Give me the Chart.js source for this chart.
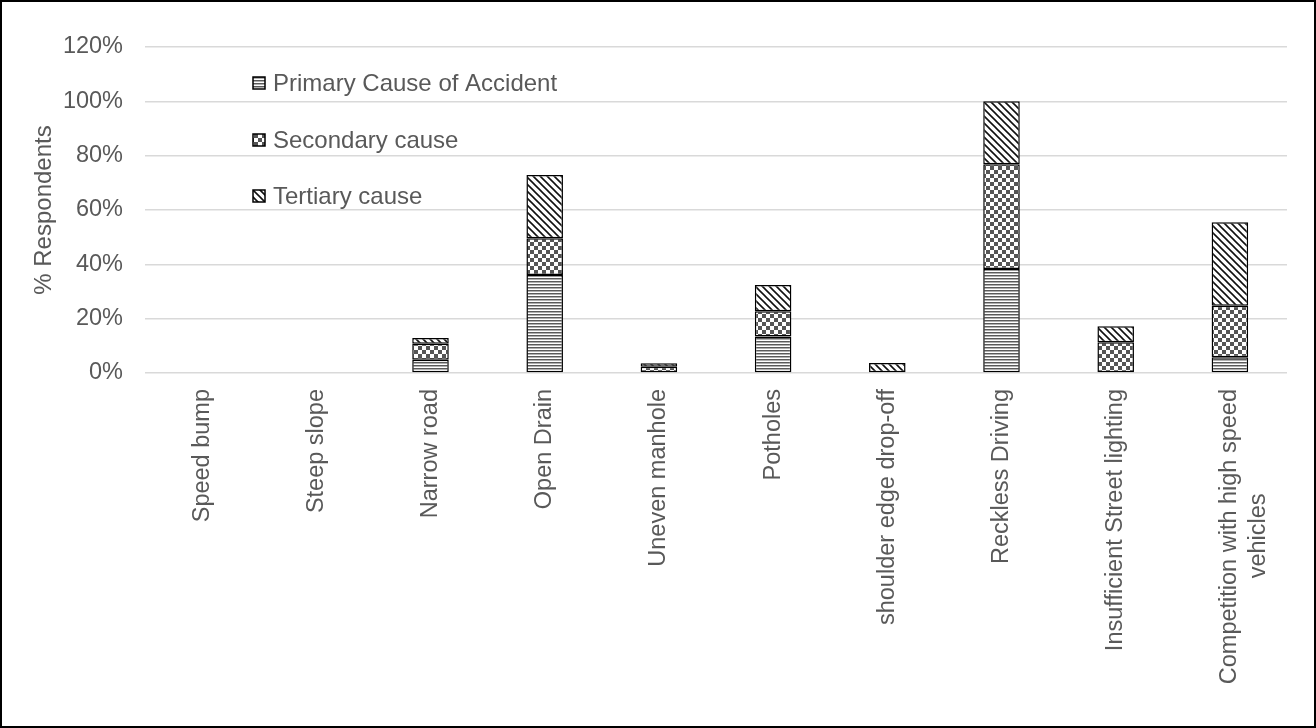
<!DOCTYPE html>
<html>
<head>
<meta charset="utf-8">
<title>Causes of accidents</title>
<script src="https://cdn.jsdelivr.net/npm/chart.js@4.4.1/dist/chart.umd.min.js"></script>
<style>
  html, body { margin: 0; padding: 0; background: #fff; }
  .frame {
    width: 1316px; height: 728px; box-sizing: border-box;
    border: 2px solid #000; background: #fff;
  }
  .holder { position: relative; width: 100%; height: 100%; }
</style>
</head>
<body>
<div class="frame"><div class="holder"><canvas id="causes"></canvas></div></div>
<script>
// categories and the three stacked series (% of respondents)
const categories = [
  'Speed bump', 'Steep slope', 'Narrow road', 'Open Drain', 'Uneven manhole',
  'Potholes', 'shoulder edge drop-off', 'Reckless Driving',
  'Insufficient Street lighting', ['Competition with high speed', 'vehicles']
];
const primaryCause   = [0, 0, 4.9, 36.1, 0,   13.4, 0,   38.3, 0,    5.8];
const secondaryCause = [0, 0, 5.9, 13.5, 2.3,  9.3, 0,   38.5, 11.3, 19.0];
const tertiaryCause  = [0, 0, 2.1, 23.3, 1.3,  9.7, 3.7, 23.2, 5.9,  30.7];
const percentTicks = [0, 20, 40, 60, 80, 100, 120];

const seriesNames = ['Primary Cause of Accident', 'Secondary cause', 'Tertiary cause'];

const FONT = "'Liberation Sans', Arial, sans-serif";
const GREY_TEXT = '#595959';

// fill patterns for the bars
function hLines() {
  const c = document.createElement('canvas');
  c.width = 4; c.height = 3;
  const g = c.getContext('2d');
  g.fillStyle = '#fff'; g.fillRect(0, 0, 4, 3);
  g.fillStyle = '#5a5a5a'; g.fillRect(0, 0, 4, 1);
  g.fillStyle = '#b0b0b0'; g.fillRect(0, 1, 4, 1);
  return g.createPattern(c, 'repeat');
}

function checker() {
  const c = document.createElement('canvas');
  c.width = 8; c.height = 8;
  const g = c.getContext('2d');
  g.fillStyle = '#fff'; g.fillRect(0, 0, 8, 8);
  g.fillStyle = '#555';
  g.fillRect(0, 0, 4, 4);
  g.fillRect(4, 4, 4, 4);
  return g.createPattern(c, 'repeat');
}

function downDiagonal() {
  const s = 7;
  const c = document.createElement('canvas');
  c.width = s; c.height = s;
  const g = c.getContext('2d');
  g.fillStyle = '#fff'; g.fillRect(0, 0, s, s);
  g.strokeStyle = '#111';
  g.lineWidth = 1.6;
  g.beginPath();
  g.moveTo(-1, -1); g.lineTo(s + 1, s + 1);
  g.moveTo(-1, s - 1); g.lineTo(1, s + 1);
  g.moveTo(s - 1, -1); g.lineTo(s + 1, 1);
  g.stroke();
  return g.createPattern(c, 'repeat');
}

const fills = [hLines(), checker(), downDiagonal()];

// centre the shorter line of a wrapped label under the longer one
const measure = document.createElement('canvas').getContext('2d');
measure.font = '23.5px ' + FONT;
function centreLines(label) {
  if (!Array.isArray(label)) return label;
  const widths = label.map(l => measure.measureText(l).width);
  const longest = Math.max(...widths);
  const space = measure.measureText(' ').width;
  return label.map((l, i) => l + ' '.repeat(Math.round((longest - widths[i]) / 2 / space)));
}

// legend stacked inside the plot area
const insideLegend = {
  id: 'insideLegend',
  afterDatasetsDraw(chart) {
    const { ctx, chartArea } = chart;
    const x = chartArea.left + 108;
    const rows = [36, 93, 149];
    ctx.save();
    ctx.font = '24px ' + FONT;
    ctx.textBaseline = 'middle';
    chart.data.datasets.forEach((ds, i) => {
      const y = chartArea.top + rows[i];
      ctx.fillStyle = ds.backgroundColor;
      ctx.fillRect(x, y - 6, 12, 12);
      ctx.strokeStyle = '#000';
      ctx.lineWidth = 1.5;
      ctx.strokeRect(x, y - 6, 12, 12);
      ctx.fillStyle = GREY_TEXT;
      ctx.fillText(ds.label, x + 20, y + 1);
    });
    ctx.restore();
  }
};

new Chart(document.getElementById('causes'), {
  type: 'bar',
  data: {
    labels: categories,
    datasets: [primaryCause, secondaryCause, tertiaryCause].map((vals, i) => ({
      label: seriesNames[i],
      data: vals,
      backgroundColor: fills[i],
      borderColor: '#000',
      borderWidth: 1.5,
      borderSkipped: false,
      categoryPercentage: 1,
      barPercentage: 0.32
    }))
  },
  options: {
    responsive: true,
    maintainAspectRatio: false,
    animation: false,
    layout: { padding: { top: 45, right: 27, left: 0, bottom: 0 } },
    plugins: {
      legend: { display: false },
      tooltip: { enabled: false }
    },
    scales: {
      x: {
        stacked: true,
        grid: { display: false },
        border: { display: false },
        ticks: {
          color: GREY_TEXT,
          font: { family: FONT, size: 23.5 },
          minRotation: 90,
          maxRotation: 90,
          padding: 8,
          autoSkip: false,
          callback: function (value) { return centreLines(categories[value]); }
        },
        afterFit: s => { s.height = 353; }
      },
      y: {
        stacked: true,
        min: 0,
        max: 120,
        afterBuildTicks: s => { s.ticks = percentTicks.map(v => ({ value: v })); },
        grid: { color: '#d9d9d9', lineWidth: 1.5, drawTicks: false },
        border: { display: false },
        ticks: {
          color: GREY_TEXT,
          font: { family: FONT, size: 23.5 },
          padding: 22,
          callback: v => v + '%'
        },
        title: {
          display: true,
          text: '% Respondents',
          color: GREY_TEXT,
          font: { family: FONT, size: 24 },
          padding: { top: 28, bottom: 0 }
        },
        afterFit: s => { s.width = 143; }
      }
    }
  },
  plugins: [insideLegend]
});
</script>
</body>
</html>
